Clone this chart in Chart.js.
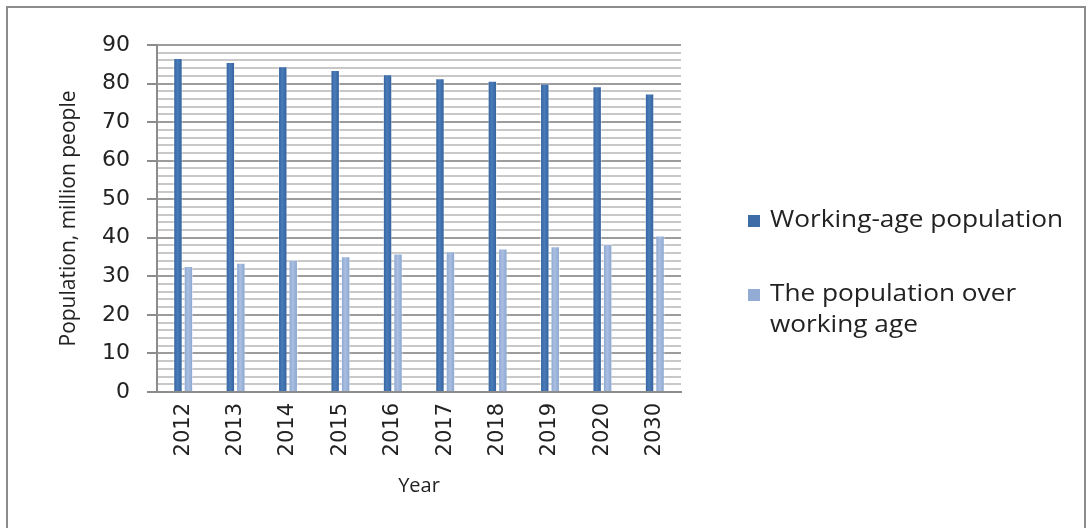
<!DOCTYPE html>
<html>
<head>
<meta charset="utf-8">
<script src="https://cdn.jsdelivr.net/npm/chart.js@4.4.1/dist/chart.umd.min.js"></script>
<style>
  html, body { margin: 0; padding: 0; background: #fff; overflow: hidden; }
  #wrap { position: relative; width: 1092px; height: 528px; }
  #frame { position: absolute; left: 6px; top: 6px; width: 1080px; height: 540px; border: 2px solid #8c8c8c; box-sizing: border-box; }
  canvas { position: absolute; left: 0; top: 0; }
  #legend { position: absolute; left: 748px; top: 203px; font-family: "Open Sans", sans-serif; font-size: 23px; color: #222; }
  .item { position: relative; padding-left: 22px; line-height: 31px; margin-bottom: 43px; }
  .txt { display: inline-block; transform: scaleX(1.14); transform-origin: left center; }
  .box { position: absolute; left: 0; top: 12px; width: 12px; height: 12px; }
</style>
</head>
<body>
<div id="wrap">
  <div id="frame"></div>
  <canvas id="myBarChart" width="1092" height="528"></canvas>
  <div id="legend"></div>
</div>
<script>
const years = ["2012", "2013", "2014", "2015", "2016", "2017", "2018", "2019", "2020", "2030"];
const workingAge = [86.6, 85.6, 84.5, 83.5, 82.4, 81.4, 80.7, 80.0, 79.3, 77.4];
const overWorkingAge = [32.7, 33.5, 34.3, 35.2, 35.9, 36.5, 37.2, 37.8, 38.4, 40.6];
const seriesNames = ["Working-age population", ["The population over", "working age"]];
const seriesColors = ["#3e6ca6", "#93acd5"];
// edge / middle shades for the round bar look
const barShades = [["#305e98", "#4a7cba"], ["#86a2cd", "#aabfe1"]];

// gives each bar its own left-right gradient so it looks like the cylinders of the original
const cylinderPlugin = {
  id: "cylinder",
  beforeDatasetsDraw(chart) {
    const c = chart.ctx;
    chart.data.datasets.forEach((ds, i) => {
      const meta = chart.getDatasetMeta(i);
      meta.data.forEach(bar => {
        const half = bar.width / 2;
        const g = c.createLinearGradient(bar.x - half, 0, bar.x + half, 0);
        g.addColorStop(0, barShades[i][0]);
        g.addColorStop(0.45, barShades[i][1]);
        g.addColorStop(1, barShades[i][0]);
        // options are shared between bars, so give each bar a copy
        bar.options = Object.assign({}, bar.options, { backgroundColor: g });
      });
    });
  }
};

document.addEventListener("DOMContentLoaded", function () {
  const ctx = document.getElementById("myBarChart").getContext("2d");

  // legend kept as html so the second label can wrap on two lines
  const legend = document.getElementById("legend");
  seriesNames.forEach((name, i) => {
    const item = document.createElement("div");
    item.className = "item";
    item.innerHTML = '<span class="box" style="background:' + seriesColors[i] + '"></span>' +
      '<span class="txt">' + (Array.isArray(name) ? name.join("<br>") : name) + '</span>';
    legend.appendChild(item);
  });

  const myBarChart = new Chart(ctx, {
    type: "bar",
    data: {
      labels: years,
      datasets: [
        {
          label: "Working-age population",
          backgroundColor: seriesColors[0],
          borderColor: "rgba(255,255,255,0.5)",
          borderWidth: 1,
          data: workingAge
        },
        {
          label: "The population over working age",
          backgroundColor: seriesColors[1],
          borderColor: "rgba(255,255,255,0.5)",
          borderWidth: 1,
          data: overWorkingAge
        }
      ]
    },
    options: {
      responsive: false,
      animation: false,
      layout: { padding: { top: 45, right: 411, left: 0, bottom: 0 } },
      datasets: {
        bar: { categoryPercentage: 0.4, barPercentage: 0.9 }
      },
      scales: {
        x: {
          grid: { display: false, drawTicks: false },
          border: { color: "#8c8c8c", width: 2 },
          ticks: {
            minRotation: 90, maxRotation: 90, padding: 11,
            color: "#222", font: { family: "DejaVu Sans", size: 21 }
          },
          title: {
            display: true, text: "Year", color: "#222",
            font: { family: "Open Sans", size: 20 },
            padding: { top: 0, bottom: 30 }
          },
          afterFit: scale => { scale.height = 136; }
        },
        y: {
          min: 0, max: 90,
          ticks: {
            stepSize: 2, padding: 17, autoSkip: false,
            color: "#222", font: { family: "DejaVu Sans", size: 22 },
            callback: v => (v % 10 === 0 ? v : "")
          },
          grid: {
            tickLength: 10,
            color: c => (c.tick && c.tick.value % 10 === 0 ? "#9c9c9c" : "#c8c8c8"),
            tickColor: c => (c.tick && c.tick.value % 10 === 0 ? "#8c8c8c" : "rgba(0,0,0,0)"),
            lineWidth: 2
          },
          border: { color: "#8c8c8c", width: 2 },
          title: {
            display: true, text: "Population, million people", color: "#222",
            font: { family: "Open Sans", size: 21 },
            padding: { top: 56, bottom: 0 }
          },
          afterFit: scale => { scale.width = 157; }
        }
      },
      plugins: {
        legend: { display: false },
        tooltip: { enabled: false }
      }
    },
    plugins: [cylinderPlugin]
  });
});
</script>
</body>
</html>
